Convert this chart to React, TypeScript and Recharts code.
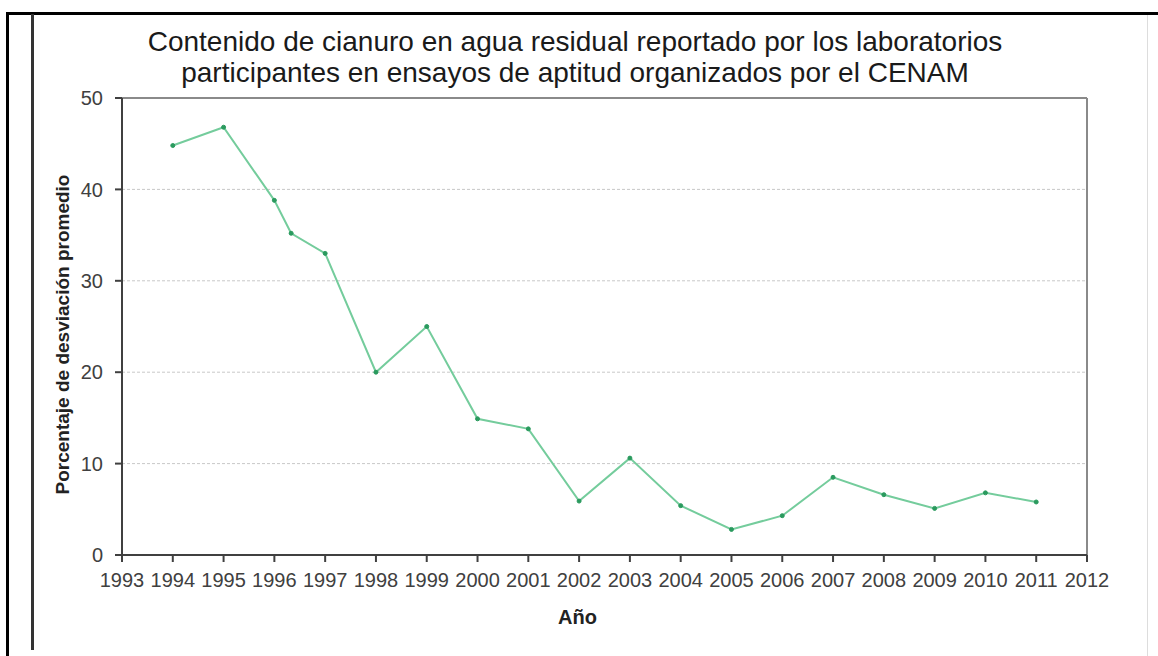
import React from 'react';
import { LineChart, Line, XAxis, YAxis, CartesianGrid, ReferenceLine, Label } from 'recharts';

const years = [1994, 1995, 1996, 1996.33, 1997, 1998, 1999, 2000, 2001, 2002, 2003, 2004, 2005, 2006, 2007, 2008, 2009, 2010, 2011];
const deviation = [44.8, 46.8, 38.8, 35.2, 33.0, 20.0, 25.0, 14.9, 13.8, 5.9, 10.6, 5.4, 2.8, 4.3, 8.5, 6.6, 5.1, 6.8, 5.8];
const xTicks = [1993, 1994, 1995, 1996, 1997, 1998, 1999, 2000, 2001, 2002, 2003, 2004, 2005, 2006, 2007, 2008, 2009, 2010, 2011, 2012];
const yTicks = [0, 10, 20, 30, 40, 50];
const titleLines = [
  'Contenido de cianuro en agua residual reportado por los laboratorios',
  'participantes en ensayos de aptitud organizados por el CENAM',
];

const data = years.map((y, i) => ({ year: y, value: deviation[i] }));

const tickStyle = { fontFamily: '"Liberation Sans", Arial, sans-serif', fontSize: 20, fill: '#404040' };

export default function App() {
  return (
    <div style={{ position: 'absolute', left: 0, top: 0, width: 1158, height: 656, background: '#fff', overflow: 'hidden' }}>
      <div style={{ position: 'absolute', left: 7, top: 12, width: 1151, height: 3, background: '#000' }} />
      <div style={{ position: 'absolute', left: 6, top: 12, width: 3, height: 644, background: '#000' }} />
      <div style={{ position: 'absolute', left: 31, top: 14, width: 3, height: 636, background: '#333' }} />
      <div style={{ position: 'absolute', left: 1147, top: 15, width: 1, height: 641, background: '#ddd' }} />
      <div
        style={{
          position: 'absolute',
          left: -4,
          top: 26,
          width: 1158,
          textAlign: 'center',
          fontFamily: '"Liberation Sans", Arial, sans-serif',
          fontSize: 28,
          lineHeight: '31px',
          color: '#1a1a1a',
          whiteSpace: 'nowrap',
        }}
      >
        {titleLines.map((t) => (
          <div key={t}>{t}</div>
        ))}
      </div>
      <div style={{ position: 'absolute', left: 0, top: 0 }}>
        <LineChart width={1158} height={656} data={data} margin={{ top: 98, right: 71, bottom: 71, left: 60 }}>
          <CartesianGrid horizontal vertical={false} stroke="#c8c8c8" strokeDasharray="3 2" />
          <XAxis
            type="number"
            dataKey="year"
            domain={[1993, 2012]}
            ticks={xTicks}
            interval={0}
            allowDecimals={false}
            tick={tickStyle}
            tickSize={7}
            tickMargin={11}
            height={30}
            stroke="#404040"
            strokeWidth={2}
          >
            <Label
              value="Año"
              position="bottom"
              offset={25}
              dx={-27}
              style={{ fontFamily: '"Liberation Sans", Arial, sans-serif', fontSize: 20, fontWeight: 'bold', fill: '#222' }}
            />
          </XAxis>
          <YAxis
            type="number"
            domain={[0, 50]}
            ticks={yTicks}
            interval={0}
            tick={tickStyle}
            tickSize={7}
            tickMargin={12}
            width={62}
            stroke="#404040"
            strokeWidth={2}
          >
            <Label
              value="Porcentaje de desviación promedio"
              angle={-90}
              position="center"
              dx={-29}
              dy={8}
              style={{ fontFamily: '"Liberation Sans", Arial, sans-serif', fontSize: 19, fontWeight: 'bold', fill: '#222', textAnchor: 'middle' }}
            />
          </YAxis>
          <ReferenceLine y={50} stroke="#8a8a8a" strokeWidth={2} />
          <ReferenceLine x={2012} stroke="#8a8a8a" strokeWidth={2} />
          <Line
            type="linear"
            dataKey="value"
            stroke="#74cc9c"
            strokeWidth={2}
            dot={{ r: 2, fill: '#2a9a5e', stroke: '#2a9a5e', strokeWidth: 1 }}
            activeDot={false}
            isAnimationActive={false}
          />
        </LineChart>
      </div>
    </div>
  );
}
